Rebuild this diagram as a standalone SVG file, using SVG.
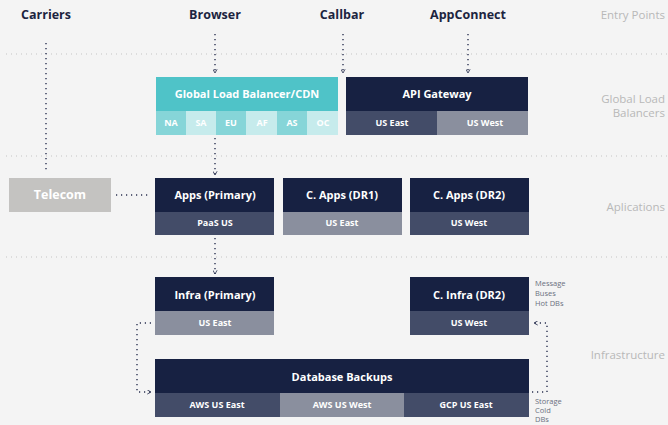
<svg xmlns="http://www.w3.org/2000/svg" width="668" height="425" viewBox="0 0 668 425">
<style>
.bg{fill:#f4f4f4}
.sep{stroke:#c4c4c4;stroke-width:1;stroke-dasharray:1 4;fill:none}
.con{stroke:#2a3150;stroke-width:1.4;stroke-dasharray:1.2 3.8;fill:none}
.ent{font-family:"Open Sans","Liberation Sans",sans-serif;font-weight:700;font-size:12.5px;fill:#1c2440;text-anchor:middle}
.sec{font-family:"Open Sans","Liberation Sans",sans-serif;font-size:11.5px;fill:#b8b8b8;text-anchor:end}
.hd{fill:#172142}
.tl{font-family:"Open Sans","Liberation Sans",sans-serif;font-weight:700;font-size:11px;fill:#ffffff;text-anchor:middle}
.st{font-family:"Open Sans","Liberation Sans",sans-serif;font-weight:700;font-size:9px;fill:#ffffff;text-anchor:middle}
.dk{fill:#434c68}
.lt{fill:#8a8f9e}
.note{font-family:"Open Sans","Liberation Sans",sans-serif;font-size:7.5px;fill:#6b7080}
</style>
<defs>
<marker id="ah" viewBox="0 0 6 6" refX="5" refY="3" markerWidth="5" markerHeight="5" orient="auto" markerUnits="userSpaceOnUse">
<path d="M0.5,0.5 L5,3 L0.5,5.5" fill="none" stroke="#2a3150" stroke-width="1"/>
</marker>
</defs>
<rect class="bg" x="0" y="0" width="668" height="425"/>

<g id="separators">
<line class="sep" x1="6" y1="54" x2="668" y2="54"/>
<line class="sep" x1="6" y1="156" x2="668" y2="156"/>
<line class="sep" x1="6" y1="257" x2="668" y2="257"/>
</g>

<g id="section-labels">
<text class="sec" x="665" y="19">Entry Points</text>
<text class="sec" x="665" y="103">Global Load</text>
<text class="sec" x="665" y="117">Balancers</text>
<text class="sec" x="665" y="211">Aplications</text>
<text class="sec" x="665" y="359">Infrastructure</text>
</g>

<g id="entry-carriers"><text class="ent" x="46" y="19">Carriers</text></g>
<g id="entry-browser"><text class="ent" x="215" y="19">Browser</text></g>
<g id="entry-callbar"><text class="ent" x="342" y="19">Callbar</text></g>
<g id="entry-appconnect"><text class="ent" x="468" y="19">AppConnect</text></g>

<g id="connectors">
<line class="con" x1="46" y1="43" x2="46" y2="172"/>
<line class="con" x1="215" y1="34" x2="215" y2="73" marker-end="url(#ah)"/>
<line class="con" x1="343" y1="34" x2="343" y2="73" marker-end="url(#ah)"/>
<line class="con" x1="468" y1="34" x2="468" y2="73" marker-end="url(#ah)"/>
<line class="con" x1="215" y1="138" x2="215" y2="175" marker-end="url(#ah)"/>
<line class="con" x1="116" y1="195" x2="150" y2="195"/>
<line class="con" x1="215" y1="238" x2="215" y2="274" marker-end="url(#ah)"/>
<polyline class="con" points="151,323 137,323 137,392 151,392" marker-end="url(#ah)"/>
<polyline class="con" points="532,392 547,392 547,323 534,323" marker-end="url(#ah)"/>
</g>

<g id="global-lb">
<rect x="156" y="77" width="182" height="34" fill="#4fc3c8"/>
<text class="tl" x="247" y="98">Global Load Balancer/CDN</text>
<rect x="156" y="111" width="31" height="24" fill="#86d5d8"/>
<rect x="186" y="111" width="31" height="24" fill="#c6ebec"/>
<rect x="216" y="111" width="31" height="24" fill="#86d5d8"/>
<rect x="246" y="111" width="31" height="24" fill="#c6ebec"/>
<rect x="277" y="111" width="31" height="24" fill="#86d5d8"/>
<rect x="307" y="111" width="31" height="24" fill="#c6ebec"/>
<text class="st" x="171" y="126">NA</text>
<text class="st" x="201" y="126">SA</text>
<text class="st" x="231" y="126">EU</text>
<text class="st" x="262" y="126">AF</text>
<text class="st" x="292" y="126">AS</text>
<text class="st" x="323" y="126">OC</text>
</g>

<g id="api-gateway">
<rect class="hd" x="346" y="77" width="182" height="34"/>
<text class="tl" x="437" y="98">API Gateway</text>
<rect class="dk" x="346" y="111" width="91" height="24"/>
<rect class="lt" x="437" y="111" width="91" height="24"/>
<text class="st" x="392" y="126">US East</text>
<text class="st" x="485" y="126">US West</text>
</g>

<g id="telecom">
<rect x="9" y="178" width="102" height="34" fill="#c4c3c1"/>
<text class="tl" x="60" y="199" style="font-size:12.5px">Telecom</text>
</g>

<g id="apps-primary">
<rect class="hd" x="155" y="178" width="119" height="34"/>
<text class="tl" x="215" y="199">Apps (Primary)</text>
<rect class="dk" x="155" y="212" width="119" height="23"/>
<text class="st" x="215" y="226">PaaS US</text>
</g>

<g id="apps-dr1">
<rect class="hd" x="283" y="178" width="119" height="34"/>
<text class="tl" x="342" y="199">C. Apps (DR1)</text>
<rect class="lt" x="283" y="212" width="119" height="23"/>
<text class="st" x="342" y="226">US East</text>
</g>

<g id="apps-dr2">
<rect class="hd" x="410" y="178" width="119" height="34"/>
<text class="tl" x="469" y="199">C. Apps (DR2)</text>
<rect class="dk" x="410" y="212" width="119" height="23"/>
<text class="st" x="469" y="226">US West</text>
</g>

<g id="infra-primary">
<rect class="hd" x="155" y="277" width="119" height="34"/>
<text class="tl" x="215" y="299">Infra (Primary)</text>
<rect class="lt" x="155" y="311" width="119" height="24"/>
<text class="st" x="215" y="326">US East</text>
</g>

<g id="infra-dr2">
<rect class="hd" x="410" y="277" width="119" height="34"/>
<text class="tl" x="469" y="299">C. Infra (DR2)</text>
<rect class="dk" x="410" y="311" width="119" height="24"/>
<text class="st" x="469" y="326">US West</text>
<text class="note" x="535" y="286">Message</text>
<text class="note" x="535" y="296">Buses</text>
<text class="note" x="535" y="306">Hot DBs</text>
</g>

<g id="database-backups">
<rect class="hd" x="155" y="359" width="374" height="34"/>
<text class="tl" x="342" y="381">Database Backups</text>
<rect class="dk" x="155" y="393" width="125" height="24"/>
<rect class="lt" x="280" y="393" width="124" height="24"/>
<rect class="dk" x="404" y="393" width="125" height="24"/>
<text class="st" x="217" y="408">AWS US East</text>
<text class="st" x="342" y="408">AWS US West</text>
<text class="st" x="466" y="408">GCP US East</text>
<text class="note" x="535" y="404">Storage</text>
<text class="note" x="535" y="413">Cold</text>
<text class="note" x="535" y="422">DBs</text>
</g>
</svg>
